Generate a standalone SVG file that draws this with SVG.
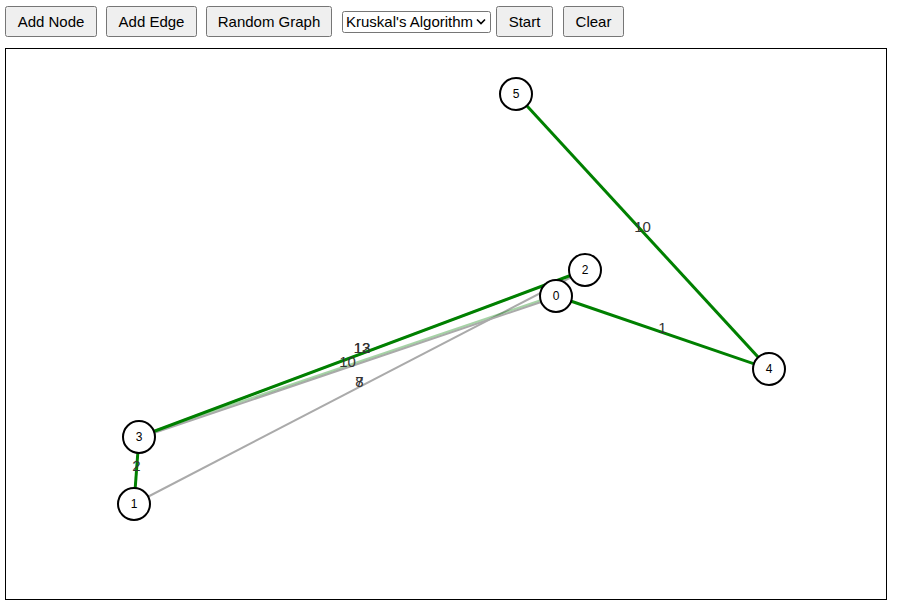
<svg xmlns="http://www.w3.org/2000/svg" width="899" height="605" viewBox="0 0 899 605">
<style>
.btn{fill:#efefef;stroke:#767676;stroke-width:1}
.bt{font-family:"Liberation Sans",Arial,sans-serif;font-size:15px;fill:#000;text-anchor:middle}
.node circle{fill:#fff;stroke:#000;stroke-width:2}
.node text{font-family:"Liberation Sans",Arial,sans-serif;font-size:12px;fill:#000;text-anchor:middle;dominant-baseline:central}
.e{stroke-linecap:butt}
.mst{stroke:#008000;stroke-width:3}
.gry{stroke:#aaa;stroke-width:2}
.lg{stroke:#008000;stroke-width:2;stroke-opacity:0.35}
.lbl{font-family:"Liberation Sans",Arial,sans-serif;font-size:15px;fill:#333;text-anchor:middle}
</style>
<rect width="899" height="605" fill="#fff"/>
<g id="toolbar">
<rect class="btn" x="5.5" y="6.5" width="91" height="30" rx="2"/>
<text class="bt" x="51" y="27">Add Node</text>
<rect class="btn" x="106.5" y="6.5" width="90" height="30" rx="2"/>
<text class="bt" x="151.5" y="27">Add Edge</text>
<rect class="btn" x="206.5" y="6.5" width="125" height="30" rx="2"/>
<text class="bt" x="269" y="27">Random Graph</text>
<rect x="342.5" y="11.5" width="148" height="21" rx="2" fill="#fff" stroke="#767676"/>
<text class="bt" x="346" y="27" style="text-anchor:start">Kruskal's Algorithm</text>
<path d="M477 19.5 L481 23.5 L485 19.5" fill="none" stroke="#000" stroke-width="1.6"/>
<rect class="btn" x="496.5" y="6.5" width="56" height="30" rx="2"/>
<text class="bt" x="524.5" y="27">Start</text>
<rect class="btn" x="563.5" y="6.5" width="60" height="30" rx="2"/>
<text class="bt" x="593.5" y="27">Clear</text>
</g>
<rect id="canvas" x="5.5" y="48.5" width="881" height="551" fill="#fff" stroke="#000" stroke-width="1"/>
<g id="edges">
<line class="e gry" x1="134" y1="504" x2="585" y2="270"/>
<line class="e gry" x1="139" y1="438" x2="556" y2="297"/>
<line class="e lg" x1="139" y1="436" x2="556" y2="295"/>
<line class="e gry" x1="139" y1="437" x2="585" y2="270"/>
<line class="e mst" x1="139" y1="437" x2="585" y2="270"/>
<line class="e mst" x1="139" y1="437" x2="134" y2="504"/>
<line class="e mst" x1="556" y1="296" x2="769" y2="369"/>
<line class="e mst" x1="516" y1="94" x2="769" y2="369"/>
<text class="lbl" x="362" y="353">12</text>
<text class="lbl" x="362" y="353">13</text>
<text class="lbl" x="347.5" y="366.5">10</text>
<text class="lbl" x="359.5" y="387">8</text>
<text class="lbl" x="359.5" y="387">7</text>
<text class="lbl" x="136.5" y="470.5">2</text>
<text class="lbl" x="662.5" y="332.5">1</text>
<text class="lbl" x="642.5" y="231.5">10</text>
</g>
<g id="node-5" class="node"><circle cx="516" cy="94" r="16"/><text x="516" y="94">5</text></g>
<g id="node-2" class="node"><circle cx="585" cy="270" r="16"/><text x="585" y="270">2</text></g>
<g id="node-0" class="node"><circle cx="556" cy="296" r="16"/><text x="556" y="296">0</text></g>
<g id="node-4" class="node"><circle cx="769" cy="369" r="16"/><text x="769" y="369">4</text></g>
<g id="node-3" class="node"><circle cx="139" cy="437" r="16"/><text x="139" y="437">3</text></g>
<g id="node-1" class="node"><circle cx="134" cy="504" r="16"/><text x="134" y="504">1</text></g>
</svg>
